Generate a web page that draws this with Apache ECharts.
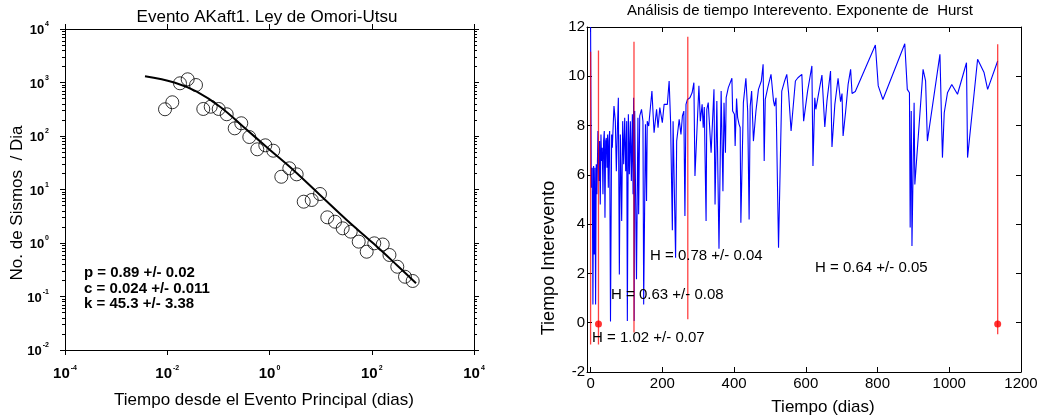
<!DOCTYPE html>
<html><head><meta charset="utf-8">
<script src="https://cdn.jsdelivr.net/npm/echarts@6/dist/echarts.min.js"></script>
<style>html,body{margin:0;padding:0;background:#fff}#c{width:1044px;height:419px}</style>
</head><body><div id="c"></div>
<script>
// ---------- Left chart: Omori-Utsu ----------
const omoriDays  = [0.00904,0.01256,0.01774,0.0251,0.0365,0.0507,0.0708,0.1014,0.1455,0.2086,0.2806,0.4027,0.577,0.828,1.186,1.702,2.44,3.40,4.67,6.69,9.72,13.5,19.1,27.0,38.8,55.6,79.6,112,164,222,316,447,632];
const omoriRates = [316,427,966,1148,897,320,353,320,255,139,173,95.7,56.4,67,53.1,17.3,24.9,19.2,5.92,6.37,8.24,3.02,2.50,1.88,1.63,1.06,0.687,0.986,0.938,0.597,0.360,0.234,0.195];
const fitDays  = [0.00367,0.01419,0.0377,0.1076,0.3076,1.023,2.92,9.72,32.4,107,308,735];
const fitRates = [1306,991,673,353,149,54.7,23.1,7.89,2.69,0.986,0.388,0.177];
const omoriStats = ['p = 0.89 +/- 0.02','c = 0.024 +/- 0.011','k = 45.3 +/- 3.38'];
const logXTicks = [1e-4,1e-2,1,1e2,1e4];

// ---------- Right chart: Hurst ----------
const hurstDays = [0,2,4.6,6.5,8.4,10.2,12.1,14,15.8,17.7,20.5,23.3,25.1,27,28.9,30.7,32.6,34.5,36.3,38.2,40.1,42,43.8,45.7,47.5,49.4,51.2,53.1,55.5,58.7,60.6,62.4,65.2,69,71.8,74.6,77.4,80.2,83,86.7,89.5,92.3,95.1,97.9,100.7,102.5,105.3,108.1,110.9,113.7,116.5,118.4,120,121.5,123,128,132,134,137,142,146,148,153,156,158,162,171,177,184,188,193,200,205,214,219,223,228,230,237,240,247,252,256,260,263,266,270,277,283,288,291,302,306,311,314,317,322,324,328,336,344,347,352,356,358,364,369,372,376,378,384,394,396,401,403,407,410,414,417,419,426,433,438,442,445,449,454,461,468,476,481,484,487,494,503,510,513,517,524,533,541,547,552,559,571,578,589,594,605,617,620,625,628,636,645,653,659,669,673,681,690,697,701,704,711,718,725,729,738,794,802,815,876,883,889,891,894,896,902,904,927,934,939,974,981,986,995,1007,1023,1048,1051,1079,1097,1107,1135];
const hurstValues = [12,5.48,6.29,0.74,6.36,2.77,6.29,0.74,6.43,5.21,7.78,5.75,7.37,4.8,7.64,6.56,7.1,5.21,7.37,7.78,4.26,7.37,7.5,6.29,7.64,5.48,7.37,7.78,0.05,7.64,7.1,7.78,8.79,8.18,6.15,7.78,9.13,1.96,7.64,4.13,8.18,6.43,8.32,6.15,8.18,0.07,8.46,6.02,8.18,5.75,8.46,5.21,9.13,0.07,8.59,1.76,8.32,4.4,8.39,8.66,8.18,0.74,8.05,4.94,8.18,7.98,9.4,7.71,8.66,7.91,8.73,8.12,8.86,8.86,9.81,8.18,3.75,8.18,2.64,7.37,8.25,7.64,8.39,8.59,4.33,8.86,9.06,9.13,9.33,9.74,5.95,9.61,8.18,8.86,7.91,8.75,4.13,8.66,8.93,6.9,9.47,4.8,9.0,8.93,3.0,9.4,5.34,8.93,6.9,9.13,9.54,9.92,8.59,8.46,7.17,9.1,8.32,8.05,7.92,4.06,8.93,9.92,8.59,4.19,8.79,9.4,7.37,8.59,9.47,9.81,10.49,6.56,9.06,9.54,10.08,9.0,8.79,9.13,3.04,9.4,9.81,10.08,9.33,7.78,9.81,9.94,10.08,8.18,9.4,10.42,6.36,9.13,8.66,9.33,10.05,7.94,9.0,10.21,7.13,8.86,9.92,8.97,9.3,7.58,8.56,9.67,10.28,9.3,9.38,11.27,9.61,9.06,11.32,9.47,9.33,3.86,8.59,3.11,8.93,5.61,10.28,9.81,7.37,10.89,6.7,8.52,9.33,9.67,9.27,10.55,6.7,10.69,10.15,9.47,10.62];
const breakDays  = [0, 22, 121, 271, 1135];
const breakLow   = [-0.88, -0.88, -0.4, 0.14, -0.47];
const breakHigh  = [11.0, 11.05, 11.4, 11.6, 11.3];
const dotDays    = [22, 1135];
const dotValues  = [-0.05, -0.05];
const hurstLabels = ['H = 1.02 +/- 0.07','H = 0.63 +/- 0.08','H = 0.78 +/- 0.04','H = 0.64 +/- 0.05'];
const rightXTicks = [0,200,400,600,800,1000,1200];

const FONT = '"Liberation Sans", Arial, sans-serif';
const chart = echarts.init(document.getElementById('c'));

const zip = (a,b) => a.map((v,i)=>[v,b[i]]);
const supFmt = v => '{b|10}{e|' + Math.round(Math.log10(v)) + '}';
const mkRich = fs => ({
  b:{fontSize:fs,fontWeight:'bold',fontFamily:FONT,color:'#000',lineHeight:16,verticalAlign:'bottom'},
  e:{fontSize:7,fontWeight:'bold',fontFamily:FONT,color:'#000',lineHeight:16,verticalAlign:'top',padding:[0,0,6,1]}
});
const blackLine = {show:true,lineStyle:{color:'#000',width:1}};

const redSeries = breakDays.map((d,i)=>({
  type:'line', xAxisIndex:2, yAxisIndex:2, symbol:'none', silent:true,
  data:[[d,breakLow[i]],[d,breakHigh[i]]],
  lineStyle:{color:'rgba(255,0,0,0.75)',width:1.3}, z:4
}));

const option = {
  animation:false,
  backgroundColor:'#fff',
  grid:[
    {left:65, top:29, width:409, height:321},
    {left:587, top:27, width:434, height:345}
  ],
  xAxis:[
    {type:'log', gridIndex:0, min:1e-4, max:1e4, position:'bottom',
     axisLine:blackLine, splitLine:{show:false},
     axisTick:{show:true, length:5, customValues:logXTicks, lineStyle:{color:'#000'}},
     axisLabel:{customValues:logXTicks, formatter:supFmt, rich:mkRich(15), margin:15}},
    {type:'log', gridIndex:0, min:1e-4, max:1e4, position:'top',
     axisLine:blackLine, splitLine:{show:false},
     axisTick:{show:true, length:5, customValues:logXTicks, lineStyle:{color:'#000'}},
     axisLabel:{show:false}},
    {type:'value', gridIndex:1, min:-10, max:1200, position:'bottom',
     axisLine:{show:true,onZero:false,lineStyle:{color:'#000',width:1}}, splitLine:{show:false},
     axisTick:{show:true, inside:true, length:5, customValues:rightXTicks, lineStyle:{color:'#000'}},
     axisLabel:{customValues:rightXTicks, formatter:v=>String(v), fontFamily:FONT, fontSize:15, color:'#000', margin:4}},
    {type:'value', gridIndex:1, min:-10, max:1200, position:'top',
     axisLine:{show:true,onZero:false,lineStyle:{color:'#000',width:1}}, splitLine:{show:false},
     axisTick:{show:true, inside:true, length:5, customValues:rightXTicks, lineStyle:{color:'#000'}},
     axisLabel:{show:false}}
  ],
  yAxis:[
    {type:'log', gridIndex:0, min:1e-2, max:1e4, position:'left',
     axisLine:blackLine, splitLine:{show:false},
     axisTick:{show:true,length:5,lineStyle:{color:'#000'}},
     minorTick:{show:true,splitNumber:9,length:3,lineStyle:{color:'#000'}},
     axisLabel:{formatter:supFmt, rich:mkRich(13), margin:16}},
    {type:'log', gridIndex:0, min:1e-2, max:1e4, position:'right',
     axisLine:blackLine, splitLine:{show:false},
     axisTick:{show:true,length:5,lineStyle:{color:'#000'}},
     minorTick:{show:true,splitNumber:9,length:3,lineStyle:{color:'#000'}},
     axisLabel:{show:false}},
    {type:'value', gridIndex:1, min:-2, max:12, interval:2, position:'left',
     axisLine:{show:true,onZero:false,lineStyle:{color:'#000',width:1}}, splitLine:{show:false},
     axisTick:{show:true,inside:true,length:5,lineStyle:{color:'#000'}},
     axisLabel:{fontFamily:FONT,fontSize:15,color:'#000',margin:2}},
    {type:'value', gridIndex:1, min:-2, max:12, interval:2, position:'right',
     axisLine:{show:true,onZero:false,lineStyle:{color:'#000',width:1}}, splitLine:{show:false},
     axisTick:{show:true,inside:true,length:5,lineStyle:{color:'#000'}},
     axisLabel:{show:false}}
  ],
  series:[
    {type:'scatter', xAxisIndex:0, yAxisIndex:0, data:zip(omoriDays,omoriRates),
     symbol:'circle', symbolSize:13,
     itemStyle:{color:'rgba(0,0,0,0)', borderColor:'#000', borderWidth:1}, z:3},
    {type:'line', xAxisIndex:0, yAxisIndex:0, data:zip(fitDays,fitRates),
     symbol:'none', smooth:0.4, lineStyle:{color:'#000', width:2}, z:4},
    {type:'line', xAxisIndex:2, yAxisIndex:2, data:zip(hurstDays,hurstValues),
     symbol:'none', lineStyle:{color:'#0000ff', width:1.1}, z:3, clip:true},
    ...redSeries,
    {type:'scatter', xAxisIndex:2, yAxisIndex:2, data:zip(dotDays,dotValues),
     symbol:'circle', symbolSize:7, itemStyle:{color:'#ff0000'}, z:5}
  ],
  graphic:[
    {type:'text', x:267, y:17, style:{text:'Evento AKaft1. Ley de Omori-Utsu', font:'17px '+FONT, fill:'#000', align:'center', verticalAlign:'middle'}},
    {type:'text', x:264, y:400, style:{text:'Tiempo desde el Evento Principal (dias)', font:'17px '+FONT, fill:'#000', align:'center', verticalAlign:'middle'}},
    {type:'text', x:17, y:203, rotation:Math.PI/2, style:{text:'No. de Sismos  / Dia', font:'17px '+FONT, fill:'#000', align:'center', verticalAlign:'middle'}},
    {type:'text', x:84, y:273, style:{text:omoriStats[0], font:'bold 15px '+FONT, fill:'#000', align:'left', verticalAlign:'middle'}},
    {type:'text', x:84, y:288.5, style:{text:omoriStats[1], font:'bold 15px '+FONT, fill:'#000', align:'left', verticalAlign:'middle'}},
    {type:'text', x:84, y:304, style:{text:omoriStats[2], font:'bold 15px '+FONT, fill:'#000', align:'left', verticalAlign:'middle'}},
    {type:'text', x:800, y:11, style:{text:'Análisis de tiempo Interevento. Exponente de  Hurst', font:'15px '+FONT, fill:'#000', align:'center', verticalAlign:'middle'}},
    {type:'text', x:823, y:407, style:{text:'Tiempo (dias)', font:'17px '+FONT, fill:'#000', align:'center', verticalAlign:'middle'}},
    {type:'text', x:549, y:258, rotation:Math.PI/2, style:{text:'Tiempo Interevento', font:'18px '+FONT, fill:'#000', align:'center', verticalAlign:'middle'}},
    {type:'text', x:592, y:338, z:10, style:{text:hurstLabels[0], font:'15px '+FONT, fill:'#000', align:'left', verticalAlign:'middle'}},
    {type:'text', x:611, y:295, z:10, style:{text:hurstLabels[1], font:'15px '+FONT, fill:'#000', align:'left', verticalAlign:'middle'}},
    {type:'text', x:650, y:256, z:10, style:{text:hurstLabels[2], font:'15px '+FONT, fill:'#000', align:'left', verticalAlign:'middle'}},
    {type:'text', x:815, y:268, z:10, style:{text:hurstLabels[3], font:'15px '+FONT, fill:'#000', align:'left', verticalAlign:'middle'}}
  ]
};
chart.setOption(option);
</script></body></html>
